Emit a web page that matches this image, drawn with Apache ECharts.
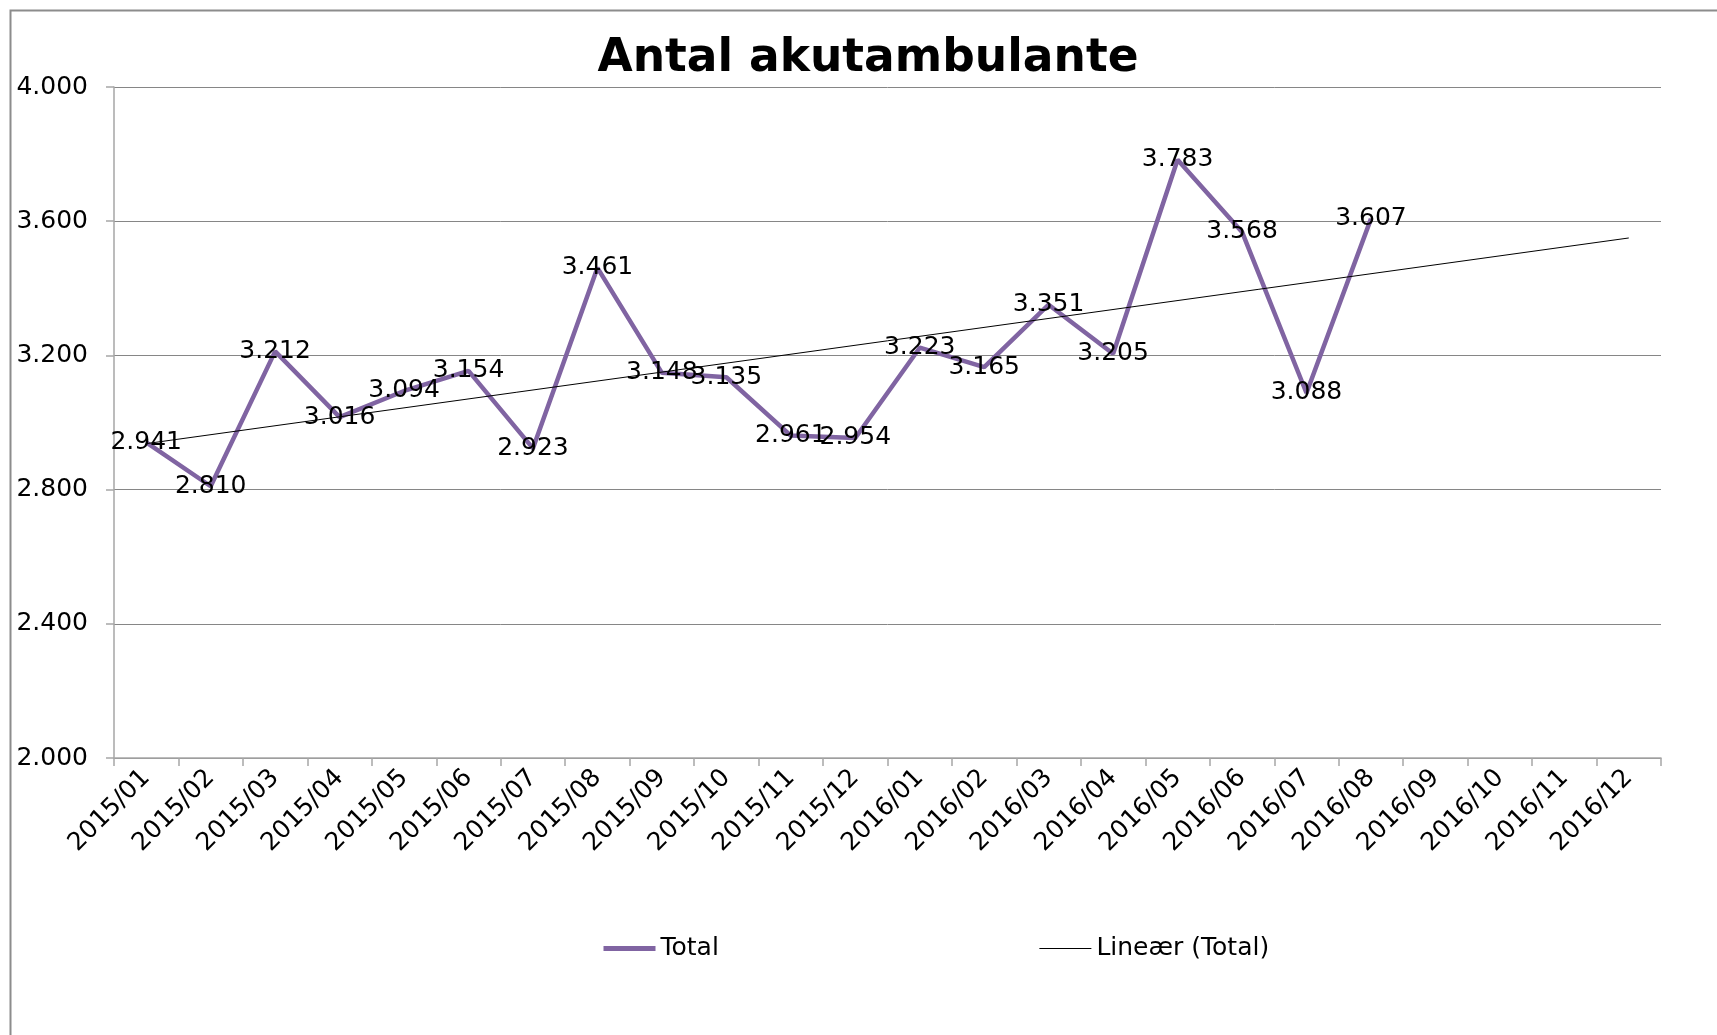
<!DOCTYPE html>
<html>
<head>
<meta charset="utf-8">
<title>Antal akutambulante</title>
<script src="https://cdn.jsdelivr.net/npm/echarts@6/dist/echarts.min.js"></script>
<style>
    html, body { margin: 0; padding: 0; background: #fff; }
    #chart { width: 1717px; height: 1035px; }
</style>
</head>
<body>
<div id="chart"></div>
<script>
// months on the x axis
var categories = ['2015/01', '2015/02', '2015/03', '2015/04', '2015/05', '2015/06',
    '2015/07', '2015/08', '2015/09', '2015/10', '2015/11', '2015/12',
    '2016/01', '2016/02', '2016/03', '2016/04', '2016/05', '2016/06',
    '2016/07', '2016/08', '2016/09', '2016/10', '2016/11', '2016/12'];

// antal akutambulante pr. maaned (til og med 2016/08)
var totals = [2941, 2810, 3212, 3016, 3094, 3154, 2923, 3461, 3148, 3135, 2961, 2954,
    3223, 3165, 3351, 3205, 3783, 3568, 3088, 3607];

// lineaer tendenslinje, endepunkter aflaest paa grafen
var trendStart = 2937;
var trendEnd = 3550;

var yTicks = [2000, 2400, 2800, 3200, 3600, 4000];

var font = 'DejaVu Sans';

//tusindtals-punktum
function fmt(v) {
    v = Math.round(v);
    var rest = String(v % 1000);
    while (rest.length < 3) rest = '0' + rest;
    return Math.floor(v / 1000) + '.' + rest;
}

var chart = echarts.init(document.getElementById('chart'));

chart.setOption({
    animation: false,
    backgroundColor: '#fff',
    graphic: [{
        type: 'rect',
        left: 8,
        top: 8,
        shape: { width: 1800, height: 1100 },
        style: { fill: 'none', stroke: '#8c8c8c', lineWidth: 2 },
        silent: true
    }],
    title: {
        text: 'Antal akutambulante',
        left: 863,
        textAlign: 'center',
        top: 31,
        textStyle: { fontFamily: font, fontWeight: 'bold', fontSize: 45.5, color: '#000' }
    },
    legend: {
        left: 601,
        top: 936,
        padding: 0,
        itemWidth: 52,
        itemHeight: 14,
        itemGap: 320,
        itemStyle: { opacity: 0 },
        textStyle: { fontFamily: font, fontSize: 25, color: '#000' },
        data: [
            { name: 'Total', lineStyle: { width: 5, color: '#8064a2' } },
            { name: 'Lineær (Total)', lineStyle: { width: 1, color: '#000' } }
        ]
    },
    grid: { left: 114, top: 87, right: 56, bottom: 277, containLabel: false },
    xAxis: {
        type: 'category',
        data: categories,
        boundaryGap: true,
        axisLine: { lineStyle: { color: '#a6a6a6', width: 1.5 } },
        axisTick: { show: true, length: 8, lineStyle: { color: '#a6a6a6', width: 1.5 } },
        axisLabel: {
            rotate: 45,
            margin: 16,
            interval: 0,
            fontFamily: font,
            fontSize: 25,
            color: '#000'
        },
        splitLine: { show: false }
    },
    yAxis: {
        type: 'value',
        min: yTicks[0],
        max: yTicks[yTicks.length - 1],
        interval: 400,
        axisLine: { show: true, lineStyle: { color: '#a6a6a6', width: 1.5 } },
        axisTick: { show: true, length: 8, lineStyle: { color: '#a6a6a6', width: 1.5 } },
        axisLabel: {
            margin: 26,
            fontFamily: font,
            fontSize: 25,
            color: '#000',
            formatter: function(v) { return fmt(v); }
        },
        splitLine: { show: true, lineStyle: { color: '#868686', width: 1 } }
    },
    series: [{
        name: 'Total',
        type: 'line',
        data: totals,
        symbol: 'circle',
        symbolSize: 1,
        showSymbol: true,
        lineStyle: { color: '#8064a2', width: 4.5 },
        itemStyle: { color: '#8064a2' },
        label: {
            show: true,
            position: 'inside',
            offset: [0, 2],
            fontFamily: font,
            fontSize: 25,
            color: '#000',
            formatter: function(p) { return fmt(p.value); }
        },
        labelLayout: { hideOverlap: false },
        z: 3
    }, {
        name: 'Lineær (Total)',
        type: 'line',
        data: [[categories[0], trendStart], [categories[categories.length - 1], trendEnd]],
        symbol: 'none',
        lineStyle: { color: '#000', width: 1 },
        itemStyle: { color: '#000' },
        silent: true,
        z: 4
    }]
});
</script>
</body>
</html>
